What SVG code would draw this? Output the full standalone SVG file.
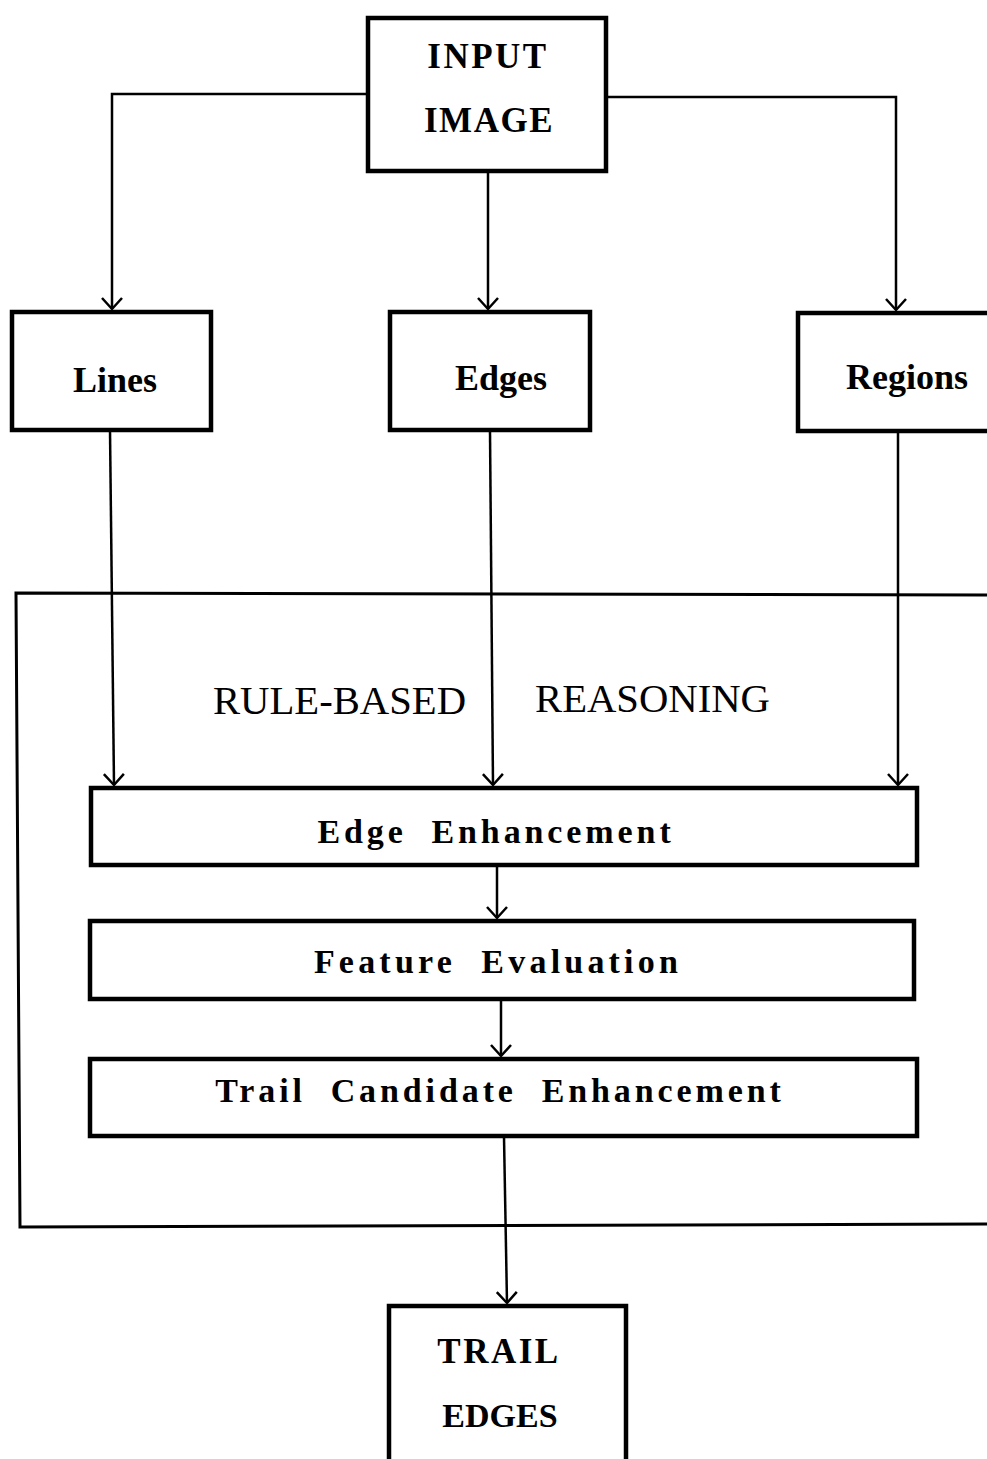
<svg xmlns="http://www.w3.org/2000/svg" width="987" height="1459" viewBox="0 0 987 1459">
<defs>
<marker id="v" viewBox="0 0 20 20" refX="18" refY="10" markerWidth="20" markerHeight="20" markerUnits="userSpaceOnUse" orient="auto" overflow="visible">
<polyline points="7,0 18,10 7,20" fill="none" stroke="#000" stroke-width="2.5"/>
</marker>
</defs>
<style>
.box{fill:#fff;stroke:#000;stroke-width:4.5}
.c{fill:none;stroke:#000;stroke-width:2.5}
.t{font-family:"Liberation Serif",serif;font-weight:bold;fill:#000;text-anchor:middle}
.r{font-family:"Liberation Serif",serif;fill:#000;font-size:39px}
</style>
<rect width="987" height="1459" fill="#fff"/>
<g id="rule-based-frame">
<polyline points="990,595 16,593 20,1227 990,1224" fill="none" stroke="#000" stroke-width="3"/>
<text class="r" x="213" y="714" textLength="253" lengthAdjust="spacingAndGlyphs">RULE-BASED</text>
<text class="r" x="535" y="712" textLength="235" lengthAdjust="spacingAndGlyphs">REASONING</text>
</g>
<g id="connectors">
<polyline class="c" points="367,94 112,94 112,309" marker-end="url(#v)"/>
<line class="c" x1="488" y1="172" x2="488" y2="309" marker-end="url(#v)"/>
<polyline class="c" points="607,97 896,97 896,310" marker-end="url(#v)"/>
<line class="c" x1="110" y1="430" x2="114" y2="785" marker-end="url(#v)"/>
<line class="c" x1="490" y1="431" x2="493" y2="785" marker-end="url(#v)"/>
<line class="c" x1="898" y1="432" x2="898" y2="785" marker-end="url(#v)"/>
<line class="c" x1="497" y1="866" x2="497" y2="918" marker-end="url(#v)"/>
<line class="c" x1="501" y1="1000" x2="501" y2="1056" marker-end="url(#v)"/>
<line class="c" x1="504" y1="1137" x2="507" y2="1303" marker-end="url(#v)"/>
</g>
<g id="input-image">
<rect class="box" x="368" y="18" width="238" height="153"/>
<text class="t" x="488" y="68" font-size="35" letter-spacing="2.5">INPUT</text>
<text class="t" x="489" y="132" font-size="35" letter-spacing="1.5">IMAGE</text>
</g>
<g id="lines">
<rect class="box" x="12" y="312" width="199" height="118"/>
<text class="t" x="115" y="392" font-size="36">Lines</text>
</g>
<g id="edges">
<rect class="box" x="390" y="312" width="200" height="118"/>
<text class="t" x="501" y="390" font-size="36">Edges</text>
</g>
<g id="regions">
<rect class="box" x="798" y="313" width="200" height="118"/>
<text class="t" x="907" y="389" font-size="36">Regions</text>
</g>
<g id="edge-enhancement">
<rect class="box" x="91" y="788" width="826" height="77"/>
<text class="t" x="496" y="843" font-size="34" letter-spacing="3.9" xml:space="preserve">Edge  Enhancement</text>
</g>
<g id="feature-evaluation">
<rect class="box" x="90" y="921" width="824" height="78"/>
<text class="t" x="498" y="973" font-size="34" letter-spacing="4.2" xml:space="preserve">Feature  Evaluation</text>
</g>
<g id="trail-candidate-enhancement">
<rect class="box" x="90" y="1059" width="827" height="77"/>
<text class="t" x="500" y="1102" font-size="34" letter-spacing="3.9" xml:space="preserve">Trail  Candidate  Enhancement</text>
</g>
<g id="trail-edges">
<rect class="box" x="389" y="1306" width="237" height="160"/>
<text class="t" x="499" y="1363" font-size="35" letter-spacing="2.5">TRAIL</text>
<text class="t" x="500" y="1427" font-size="34">EDGES</text>
</g>
</svg>
